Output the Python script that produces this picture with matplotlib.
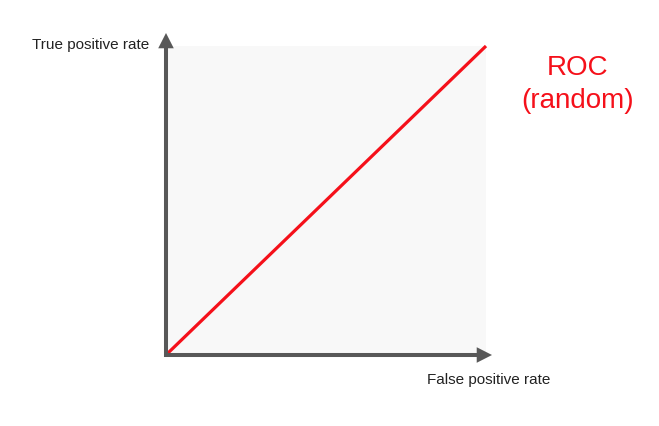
import matplotlib
matplotlib.use("Agg")
import matplotlib.pyplot as plt

# Data
fpr = [0.0, 1.0]
tpr = [0.0, 1.0]
x_label = "False positive rate"
y_label = "True positive rate"
curve_label = "ROC\n(random)"

W, H = 659, 426
fig = plt.figure(figsize=(W / 100, H / 100), dpi=100)
fig.patch.set_facecolor("white")

# axes region in pixels
L, R, T, B = 168, 486, 46, 353
ax = fig.add_axes([L / W, (H - B) / H, (R - L) / W, (B - T) / H])
ax.set_facecolor("#f8f8f8")
ax.set_xlim(0, 1)
ax.set_ylim(0, 1)
ax.set_xticks([])
ax.set_yticks([])
for s in ax.spines.values():
    s.set_visible(False)

red = "#f5101a"
ax.plot(fpr, tpr, color=red, lw=2.3, solid_capstyle="butt", clip_on=False, zorder=3)

axis_col = "#585858"
pw, ph = R - L, B - T
def fx(px):
    return (px - L) / pw
def fy(py):
    return (B - py) / ph

# vertical axis
ax.plot([fx(166), fx(166)], [fy(357), fy(47)], color=axis_col, lw=2.9,
        solid_capstyle="butt", transform=ax.transAxes, clip_on=False, zorder=4)
ax.annotate("", xy=(fx(166), fy(33)), xytext=(fx(166), fy(60)),
            xycoords="axes fraction", textcoords="axes fraction",
            arrowprops=dict(arrowstyle="-|>,head_length=11,head_width=5.6",
                            mutation_scale=1, lw=0, color=axis_col,
                            shrinkA=0, shrinkB=0), annotation_clip=False, zorder=4)
# horizontal axis
ax.plot([fx(164), fx(478)], [fy(355), fy(355)], color=axis_col, lw=2.9,
        solid_capstyle="butt", transform=ax.transAxes, clip_on=False, zorder=4)
ax.annotate("", xy=(fx(492), fy(355)), xytext=(fx(465), fy(355)),
            xycoords="axes fraction", textcoords="axes fraction",
            arrowprops=dict(arrowstyle="-|>,head_length=11,head_width=5.6",
                            mutation_scale=1, lw=0, color=axis_col,
                            shrinkA=0, shrinkB=0), annotation_clip=False, zorder=4)

font = "Liberation Sans"
fig.text(32 / W, 1 - 45 / H, y_label, ha="left", va="center", fontsize=11,
         family=font, color="#222222")
fig.text(427 / W, 1 - 380 / H, x_label, ha="left", va="center", fontsize=11,
         family=font, color="#222222")
fig.text(578 / W, 1 - 84.5 / H, curve_label, ha="center", va="center", fontsize=20,
         family=font, color=red, linespacing=1.36)

fig.savefig("out.png", dpi=100, facecolor="white")
